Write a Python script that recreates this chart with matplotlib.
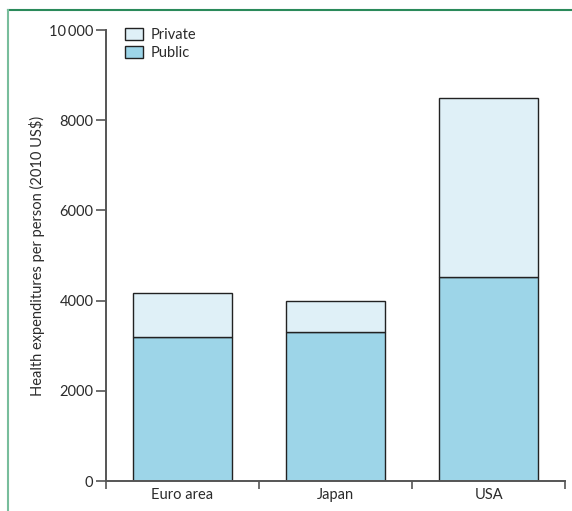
import matplotlib.pyplot as plt
from matplotlib.patches import Patch
from matplotlib.lines import Line2D

regions = ["Euro area", "Japan", "USA"]
public = [3190, 3300, 4520]
private = [980, 690, 3970]

col_public = "#9dd5e8"
col_private = "#dff0f7"
axis_col = "#555555"
txt_col = "#2b2b2b"

plt.rcParams['font.family'] = ['Lato', 'DejaVu Sans']
plt.rcParams['text.color'] = txt_col
plt.rcParams['axes.labelcolor'] = txt_col
plt.rcParams['xtick.labelcolor'] = txt_col
plt.rcParams['ytick.labelcolor'] = txt_col

fig = plt.figure(figsize=(5.72, 5.11), dpi=100)
ax = fig.add_axes([0.185, 0.0587, 0.803, 0.8823])

x = [i + 0.5 for i in range(len(regions))]
ax.bar(x, public, width=0.65, color=col_public, edgecolor="#222222", linewidth=1)
ax.bar(x, private, width=0.65, bottom=public, color=col_private,
       edgecolor="#222222", linewidth=1)

ax.set_xlim(0, 3)
ax.set_ylim(0, 10000)
ax.set_yticks([0, 2000, 4000, 6000, 8000, 10000])
ax.set_yticklabels(["0", "2000", "4000", "6000", "8000", "10\u2009000"],
                   family=['Lato', 'DejaVu Sans'])
ax.set_xticks([0, 1, 2, 3])
ax.set_xticklabels([])
ax.set_xticks(x, minor=True)
ax.set_xticklabels(regions, minor=True)
ax.tick_params(axis="x", which="minor", length=0, pad=5, labelsize=10.5)
ax.tick_params(axis="x", which="major", direction="out", length=6, width=1.2, color=axis_col)
ax.tick_params(axis="y", direction="out", length=7, width=1.2, color=axis_col,
               labelsize=10.5, pad=2)

for s in ["top", "right"]:
    ax.spines[s].set_visible(False)
for s in ["left", "bottom"]:
    ax.spines[s].set_color(axis_col)
    ax.spines[s].set_linewidth(1.4)

ax.set_ylabel("Health expenditures per person (2010 US$)", fontsize=10.5, labelpad=3)

handles = [Patch(facecolor=col_private, edgecolor="#222222", label="Private"),
           Patch(facecolor=col_public, edgecolor="#222222", label="Public")]
ax.legend(handles=handles, loc="upper left", bbox_to_anchor=(0.028, 1.018),
          frameon=False, fontsize=10.5, handlelength=1.25, handleheight=0.9,
          handletextpad=0.55, labelspacing=0.3, borderaxespad=0)

# green frame lines (top and left)
fig.add_artist(Line2D([8 / 572, 1], [1 - 10 / 511, 1 - 10 / 511],
                      transform=fig.transFigure, color="#2a8a5a", linewidth=1.5))
fig.add_artist(Line2D([8 / 572, 8 / 572], [0, 1 - 10 / 511],
                      transform=fig.transFigure, color="#78bd9c", linewidth=1.5))

fig.savefig("out.png", dpi=100)
